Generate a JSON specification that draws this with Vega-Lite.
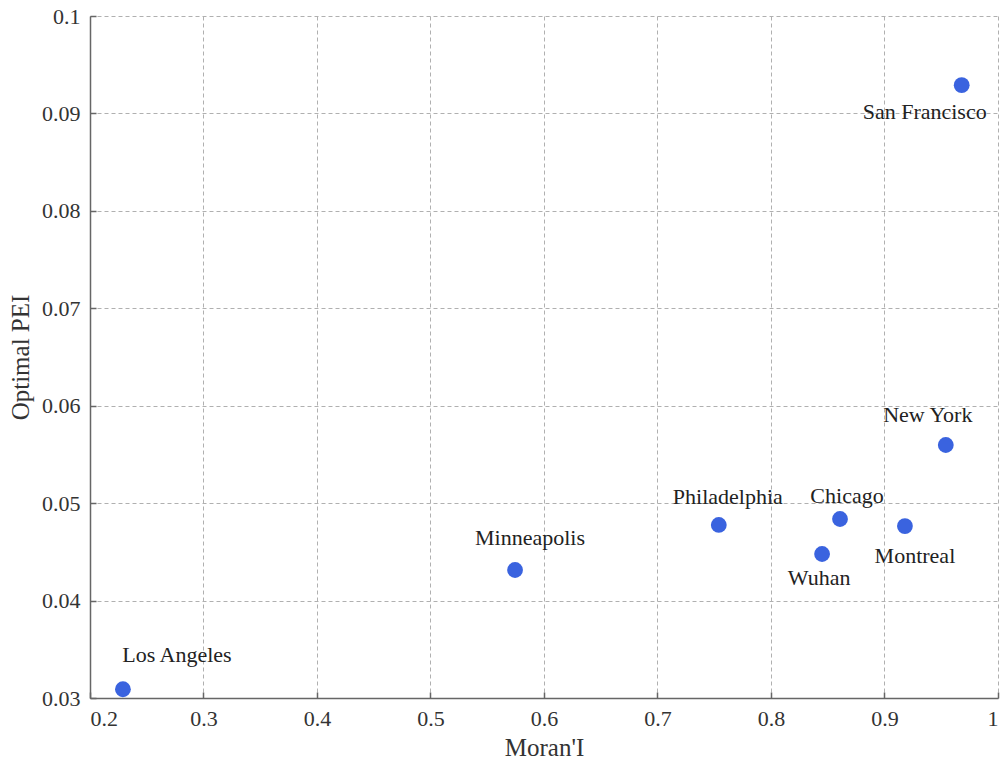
{
  "$schema": "https://vega.github.io/schema/vega-lite/v6.json",
  "width": 908,
  "height": 682,
  "autosize": {"type": "none"},
  "padding": {"left": 90, "top": 16, "right": 5, "bottom": 65},
  "background": "white",
  "config": {
    "view": {"stroke": null},
    "font": "Liberation Serif",
    "axis": {
      "labelFont": "Liberation Serif",
      "titleFont": "Liberation Serif",
      "labelFontSize": 22,
      "titleFontSize": 25,
      "titleFontWeight": "normal",
      "labelColor": "#333",
      "titleColor": "#333",
      "domainColor": "#666",
      "domainWidth": 1.5,
      "tickColor": "#666",
      "tickWidth": 1.5,
      "tickSize": -6,
      "gridColor": "#b0b0b0",
      "gridDash": [4, 3],
      "gridWidth": 1
    }
  },
  "data": {
    "values": [
      {"city": "Los Angeles", "moran": 0.229, "pei": 0.0309},
      {"city": "Minneapolis", "moran": 0.5745, "pei": 0.04314},
      {"city": "Philadelphia", "moran": 0.754, "pei": 0.04776},
      {"city": "Chicago", "moran": 0.8608, "pei": 0.04837},
      {"city": "Wuhan", "moran": 0.845, "pei": 0.04478},
      {"city": "Montreal", "moran": 0.918, "pei": 0.04765},
      {"city": "New York", "moran": 0.954, "pei": 0.05597},
      {"city": "San Francisco", "moran": 0.968, "pei": 0.0929}
    ]
  },
  "encoding": {
    "x": {
      "field": "moran", "type": "quantitative",
      "scale": {"domain": [0.2, 1], "nice": false, "zero": false},
      "axis": {"values": [0.2, 0.3, 0.4, 0.5, 0.6, 0.7, 0.8, 0.9, 1], "format": ".1~f", "title": "Moran'I", "labelPadding": 16, "titlePadding": 6,
        "encode": {"labels": {"update": {"font": {"value": "Liberation Serif"}, "fontSize": {"value": 22}}}}}
    },
    "y": {
      "field": "pei", "type": "quantitative",
      "scale": {"domain": [0.03, 0.1], "nice": false, "zero": false},
      "axis": {"values": [0.03, 0.04, 0.05, 0.06, 0.07, 0.08, 0.09, 0.1], "format": ".2~f", "title": "Optimal PEI", "labelPadding": 16, "titlePadding": 8,
        "encode": {"labels": {"update": {"font": {"value": "Liberation Serif"}, "fontSize": {"value": 22}}}}}
    }
  },
  "layer": [
    {"mark": {"type": "point", "filled": true, "size": 250, "color": "#3a63df", "opacity": 1}},
    {"transform": [{"filter": "datum.city == 'Los Angeles'"}], "mark": {"type": "text", "font": "Liberation Serif", "fontSize": 22, "color": "#222", "dx": 54, "dy": -34}, "encoding": {"text": {"field": "city"}}},
    {"transform": [{"filter": "datum.city == 'Minneapolis'"}], "mark": {"type": "text", "font": "Liberation Serif", "fontSize": 22, "color": "#222", "dx": 15, "dy": -32}, "encoding": {"text": {"field": "city"}}},
    {"transform": [{"filter": "datum.city == 'Philadelphia'"}], "mark": {"type": "text", "font": "Liberation Serif", "fontSize": 22, "color": "#222", "dx": 9, "dy": -28}, "encoding": {"text": {"field": "city"}}},
    {"transform": [{"filter": "datum.city == 'Chicago'"}], "mark": {"type": "text", "font": "Liberation Serif", "fontSize": 22, "color": "#222", "dx": 7, "dy": -23}, "encoding": {"text": {"field": "city"}}},
    {"transform": [{"filter": "datum.city == 'Wuhan'"}], "mark": {"type": "text", "font": "Liberation Serif", "fontSize": 22, "color": "#222", "dx": -3, "dy": 24}, "encoding": {"text": {"field": "city"}}},
    {"transform": [{"filter": "datum.city == 'Montreal'"}], "mark": {"type": "text", "font": "Liberation Serif", "fontSize": 22, "color": "#222", "dx": 10, "dy": 30}, "encoding": {"text": {"field": "city"}}},
    {"transform": [{"filter": "datum.city == 'New York'"}], "mark": {"type": "text", "font": "Liberation Serif", "fontSize": 22, "color": "#222", "dx": -18, "dy": -30}, "encoding": {"text": {"field": "city"}}},
    {"transform": [{"filter": "datum.city == 'San Francisco'"}], "mark": {"type": "text", "font": "Liberation Serif", "fontSize": 22, "color": "#222", "dx": -37, "dy": 27}, "encoding": {"text": {"field": "city"}}}
  ]
}
